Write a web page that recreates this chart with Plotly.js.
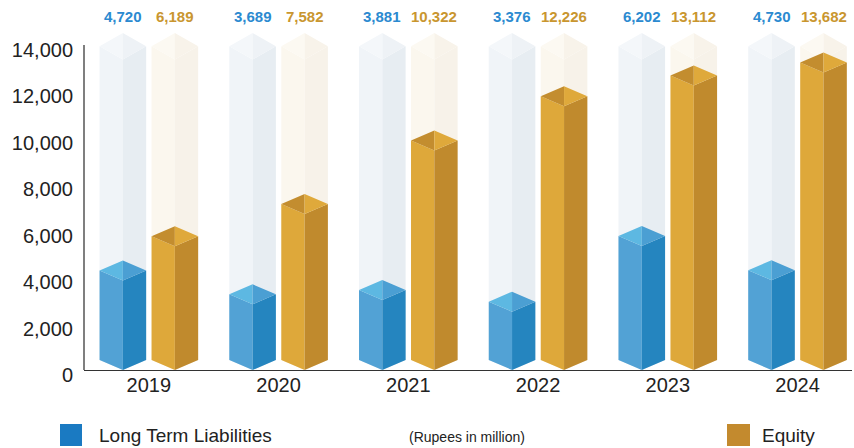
<!DOCTYPE html>
<html>
<head>
<meta charset="utf-8">
<script src="https://cdn.plot.ly/plotly-3.0.1.min.js"></script>
<style>html,body{margin:0;padding:0;background:#fff;}#chart{width:854px;height:448px;}</style>
</head>
<body>
<div id="chart"></div>
<script>
// ---- data ----
const years = ['2019', '2020', '2021', '2022', '2023', '2024'];
const longTermLiabilities = [4720, 3689, 3881, 3376, 6202, 4730];
const equity = [6189, 7582, 10322, 12226, 13112, 13682];
const ghostHeight = 14520;          // height of the pale background columns
const yTickVals = [0, 2000, 4000, 6000, 8000, 10000, 12000, 14000];

// ---- layout geometry (pixels) ----
const W = 854, H = 448;
const M = {l: 84, r: 2, t: 30, b: 78};
const plotW = W - M.l - M.r, plotH = H - M.t - M.b;
const xRange = [-0.5, 5.42];
const yRange = [0, 14646];
const pxX = plotW / (xRange[1] - xRange[0]);
const pxY = plotH / (yRange[1] - yRange[0]);
const offPx = 26, halfPx = 23.3, depthPx = 10, ghostDepthPx = 13.3;
const off = offPx / pxX, hw = halfPx / pxX;
const dep = depthPx / pxY, gdep = ghostDepthPx / pxY;

const FONT = '"Liberation Sans", Arial, Helvetica, sans-serif';

// polygon accumulators
function acc() { return {x: [], y: []}; }
function push(a, pts) {
  pts.forEach(p => { a.x.push(p[0]); a.y.push(p[1]); });
  a.x.push(pts[0][0]); a.y.push(pts[0][1]);
  a.x.push(null); a.y.push(null);
}
function prism(faces, xc, v, dTop) {
  push(faces.left, [[xc - hw, dep], [xc, 0], [xc, v - 2 * dTop], [xc - hw, v - dTop]]);
  push(faces.right, [[xc, 0], [xc + hw, dep], [xc + hw, v - dTop], [xc, v - 2 * dTop]]);
  push(faces.topL, [[xc - hw, v - dTop], [xc, v], [xc, v - 2 * dTop]]);
  push(faces.topR, [[xc, v], [xc + hw, v - dTop], [xc, v - 2 * dTop]]);
}
function faceSet() { return {left: acc(), right: acc(), topL: acc(), topR: acc()}; }

const gBlue = faceSet(), gGold = faceSet(), blue = faceSet(), gold = faceSet();
years.forEach((yr, i) => {
  prism(gBlue, i - off, ghostHeight, gdep);
  prism(gGold, i + off, ghostHeight, gdep);
});
years.forEach((yr, i) => {
  prism(blue, i - off, longTermLiabilities[i], dep);
  prism(gold, i + off, equity[i], dep);
});

const traces = [];
function addFaces(fs, cols) {
  ['left', 'right', 'topL', 'topR'].forEach((k, j) => {
    traces.push({
      type: 'scatter', mode: 'lines', x: fs[k].x, y: fs[k].y,
      fill: 'toself', fillcolor: cols[j], line: {width: 0, color: cols[j]},
      hoverinfo: 'skip', showlegend: false
    });
  });
}
addFaces(gBlue, ['#f0f4f8', '#e7edf2', '#f4f7fa', '#eef2f6']);
addFaces(gGold, ['#fbf7ee', '#f7f2e9', '#fcf9f2', '#f8f3ea']);
addFaces(blue, ['#52a2d5', '#2585bf', '#5db8e2', '#4b9fd3']);
addFaces(gold, ['#dea83a', '#c08a2d', '#c38d2f', '#dfa93b']);

function paperX(px) { return (px - M.l) / plotW; }
function paperY(py) { return (H - M.b - py) / plotH; }

const annotations = [];
years.forEach((yr, i) => {
  annotations.push({x: i - off, y: ghostHeight, xref: 'x', yref: 'y', yshift: 16,
    text: longTermLiabilities[i].toLocaleString('en-US'), showarrow: false,
    xanchor: 'center', yanchor: 'middle',
    font: {family: FONT, size: 15, color: '#2b8ad0', weight: 'bold'}});
  annotations.push({x: i + off, y: ghostHeight, xref: 'x', yref: 'y', yshift: 16,
    text: equity[i].toLocaleString('en-US'), showarrow: false,
    xanchor: 'center', yanchor: 'middle',
    font: {family: FONT, size: 15, color: '#c9962f', weight: 'bold'}});
});
annotations.push({x: paperX(97), y: paperY(435), xref: 'paper', yref: 'paper',
  text: 'Long Term Liabilities', showarrow: false, xanchor: 'left', yanchor: 'middle',
  font: {family: FONT, size: 19, color: '#222'}});
annotations.push({x: paperX(467), y: paperY(437), xref: 'paper', yref: 'paper',
  text: '(Rupees in million)', showarrow: false, xanchor: 'center', yanchor: 'middle',
  font: {family: FONT, size: 14, color: '#222'}});
annotations.push({x: paperX(760), y: paperY(435), xref: 'paper', yref: 'paper',
  text: 'Equity', showarrow: false, xanchor: 'left', yanchor: 'middle',
  font: {family: FONT, size: 19, color: '#222'}});

const shapes = [
  {type: 'line', xref: 'paper', yref: 'y', x0: 0, x1: 0, y0: 0, y1: yTickVals[yTickVals.length - 1],
   line: {color: '#555', width: 1.5}},
  {type: 'rect', xref: 'paper', yref: 'paper', x0: paperX(60), x1: paperX(82), y0: paperY(446), y1: paperY(424),
   fillcolor: '#1a7ac2', line: {width: 0}},
  {type: 'rect', xref: 'paper', yref: 'paper', x0: paperX(727), x1: paperX(750), y0: paperY(446), y1: paperY(424),
   fillcolor: '#c38a2e', line: {width: 0}}
];

const layout = {
  width: W, height: H,
  margin: M,
  paper_bgcolor: '#fff', plot_bgcolor: '#fff',
  showlegend: false,
  font: {family: FONT, color: '#222'},
  xaxis: {
    range: xRange, fixedrange: true, showgrid: false, zeroline: false,
    showline: true, linecolor: '#333', linewidth: 1.2,
    tickvals: years.map((y, i) => i), ticktext: years, ticks: '',
    ticklabelstandoff: -3,
    tickfont: {family: FONT, size: 20, color: '#222'}
  },
  yaxis: {
    range: yRange, fixedrange: true, showgrid: false, zeroline: false,
    showline: false, tickvals: yTickVals, tickformat: ',d', ticks: '',
    ticklabelstandoff: 10, ticklabelshift: 5,
    tickfont: {family: FONT, size: 20, color: '#222'}
  },
  shapes: shapes,
  annotations: annotations
};

Plotly.newPlot('chart', traces, layout, {staticPlot: true, displayModeBar: false});
</script>
</body>
</html>
